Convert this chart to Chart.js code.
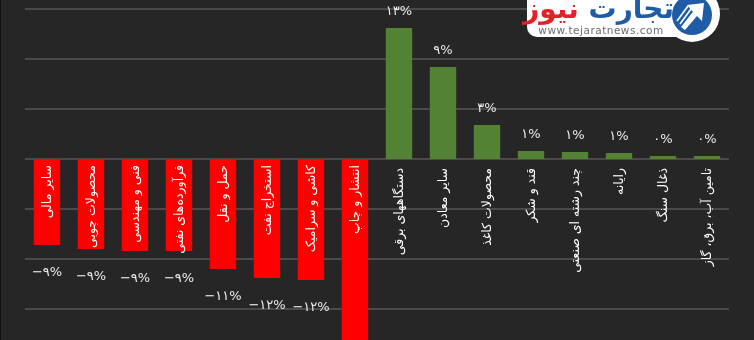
<!DOCTYPE html>
<html lang="fa">
<head>
<meta charset="utf-8">
<script src="https://cdn.jsdelivr.net/npm/chart.js@4/dist/chart.umd.min.js"></script>
<style>
  html, body { margin: 0; padding: 0; background: #262626; }
  #wrap { position: relative; width: 754px; height: 340px; overflow: hidden; background: #262626; }
  #edge { position: absolute; left: 0; top: 0; width: 1px; height: 340px; background: #111; }
  #box { position: absolute; left: 0; top: 0; width: 754px; height: 400px; }
  .abs { position: absolute; }
  #card { left: 527px; top: -14px; width: 180px; height: 51px; border-radius: 10px; background: #fff; }
  #disc { left: 664px; top: -14px; width: 56px; height: 56px; border-radius: 50%; background: #fff; }
  #brand { left: 532px; top: -8px; width: 142px; text-align: center; direction: rtl;
           font: bold 28px "DejaVu Sans", sans-serif; line-height: 34px; white-space: nowrap; letter-spacing: -0.5px; }
  #url { left: 534px; top: 24px; width: 134px; text-align: center;
         font: 10.5px "DejaVu Sans", sans-serif; letter-spacing: 0.5px; color: #6b6b6b; line-height: 12px; }
</style>
</head>
<body>
<div id="wrap">
  <div id="box"><canvas id="chart" width="754" height="400"></canvas></div>
  <div id="edge"></div>
  <div class="abs" id="card"></div>
  <div class="abs" id="disc"></div>
  <svg class="abs" style="left:672px;top:-5px" width="40" height="40" viewBox="0 0 40 40">
    <circle cx="20" cy="20" r="20" fill="#1f5ca8"/>
    <g stroke="#ffffff" stroke-width="1.6">
      <line x1="5" y1="26" x2="16" y2="11"/>
      <line x1="8" y1="29" x2="19" y2="14"/>
      <line x1="11" y1="32" x2="21" y2="18"/>
    </g>
    <path d="M15 10 L32 8 L30 26 L25 21 L13 35 L9 32 L21 17 Z" fill="#ffffff"/>
  </svg>
  <div class="abs" id="brand"><span style="color:#1f5ca8">تجارت</span> <span style="color:#e4202a">نیوز</span></div>
  <div class="abs" id="url">www.tejaratnews.com</div>
</div>
<script>
// Industry groups, left to right
const categories = [
  'سایر مالی',
  'محصولات چوبی',
  'فنی و مهندسی',
  'فرآورده‌های نفتی',
  'حمل و نقل',
  'استخراج نفت',
  'کاشی و سرامیک',
  'انتشار و چاپ',
  'دستگاههای برقی',
  'سایر معادن',
  'محصولات کاغذ',
  'قند و شکر',
  'چند رشته ای صنعتی',
  'رایانه',
  'ذغال سنگ',
  'تامین آب، برق، گاز'
];

// Percentage change for each group
const changes = [-8.6, -9.0, -9.2, -9.2, -11.0, -11.9, -12.1, -19.0,
                 13.1, 9.2, 3.4, 0.8, 0.7, 0.6, 0.3, 0.3];

// Value axis gridlines
const yTicks = [15, 10, 5, 0, -5, -10, -15, -20];

const RED = '#ff0000';
const GREEN = '#548235';
const GRID = '#4a4a4a';

const faDigits = '۰۱۲۳۴۵۶۷۸۹';
function toFa(n) {
  return String(n).replace(/\d/g, d => faDigits[+d]);
}
function fmtPct(v) {
  const r = Math.round(Math.abs(v));
  return (v < 0 && r !== 0 ? '−' : '') + toFa(r) + '%';
}

// Horizontal gridlines across the plotting area only
const gridLines = {
  id: 'gridLines',
  beforeDatasetsDraw(chart) {
    const ctx = chart.ctx;
    const area = chart.chartArea, ys = chart.scales.y;
    ctx.save();
    ctx.strokeStyle = GRID;
    ctx.lineWidth = 2;
    yTicks.forEach(t => {
      const y = Math.round(ys.getPixelForValue(t));
      ctx.beginPath();
      ctx.moveTo(area.left, y);
      ctx.lineTo(area.right, y);
      ctx.stroke();
    });
    ctx.restore();
  }
};

const barLabels = {
  id: 'barLabels',
  afterDatasetsDraw(chart) {
    const ctx = chart.ctx;
    const meta = chart.getDatasetMeta(0);
    meta.data.forEach((bar, i) => {
      const v = changes[i];
      ctx.save();
      // value text
      ctx.fillStyle = '#ececec';
      ctx.font = '13px "DejaVu Sans"';
      ctx.textAlign = 'center';
      ctx.textBaseline = 'middle';
      const ly = v >= 0 ? bar.y - 16 : bar.y + 28;
      ctx.fillText(fmtPct(v), bar.x, ly);
      // group name, vertical, starting just below the zero line
      ctx.translate(bar.x, bar.base + (v >= 0 ? 9 : 6));
      ctx.rotate(-Math.PI / 2);
      ctx.fillStyle = '#ffffff';
      ctx.font = '12.5px "DejaVu Sans"';
      ctx.textAlign = 'right';
      ctx.textBaseline = 'middle';
      ctx.fillText(categories[i], 0, 1);
      ctx.restore();
    });
  }
};

new Chart(document.getElementById('chart'), {
  type: 'bar',
  data: {
    labels: categories,
    datasets: [{
      data: changes,
      backgroundColor: changes.map(v => v < 0 ? RED : GREEN),
      borderWidth: 0,
      barPercentage: 0.6,
      categoryPercentage: 1.0
    }]
  },
  options: {
    responsive: false,
    animation: false,
    devicePixelRatio: 1,
    layout: { padding: { left: 25, right: 25, top: 9, bottom: 41 } },
    plugins: {
      legend: { display: false },
      tooltip: { enabled: false }
    },
    scales: {
      x: { display: false },
      y: {
        display: false,
        min: -20,
        max: 15
      }
    }
  },
  plugins: [gridLines, barLabels]
});
</script>
</body>
</html>
